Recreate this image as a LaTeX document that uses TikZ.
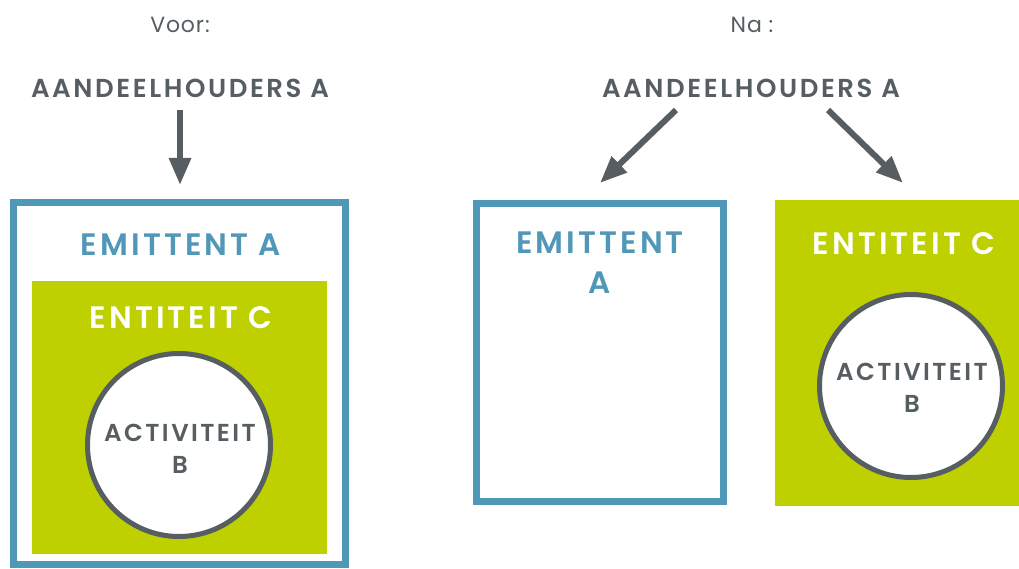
\documentclass[tikz,border=0pt]{standalone}
\usepackage{fontspec}
\setmainfont{Poppins}
\newfontfamily\capfont{Poppins}[LetterSpace=4]
\newfontfamily\headfont{Poppins SemiBold}[LetterSpace=10]
\usetikzlibrary{arrows.meta}
\definecolor{ink}{RGB}{86,94,98}
\definecolor{steel}{RGB}{80,151,184}
\definecolor{lime}{RGB}{190,208,0}
\tikzset{
  caption/.style={text=ink, font=\capfont\fontsize{22}{26}\selectfont, inner sep=0},
  head/.style={text=ink, font=\headfont\fontsize{26}{30}\selectfont, inner sep=0},
  issuer/.style={draw=steel, line width=7pt, fill=white, inner sep=0},
  entity/.style={fill=lime, inner sep=0},
  activity/.style={circle, draw=ink, line width=5pt, fill=white, inner sep=0,
    minimum size=183pt},
  blue label/.style={text=steel, font=\headfont\fontsize{31}{40}\selectfont, inner sep=0, align=center},
  white label/.style={text=white, font=\headfont\fontsize{31}{36}\selectfont, inner sep=0},
  act label/.style={text=ink, font=\headfont\fontsize{24.5}{32}\selectfont, inner sep=0, align=center},
  flow/.style={draw=ink, line width=6pt, -{Triangle[length=27pt,width=21pt]}},
}
\begin{document}
\begin{tikzpicture}[x=1pt, y=-1pt]
\useasboundingbox (0,0) rectangle (1019,569);

% ---- before ----
\node[caption] (voor) at (180,25) {Voor:};
\node[head] (holdL) at (180,88) {AANDEELHOUDERS A};
\node[issuer, minimum width=332.5pt, minimum height=361pt] (issL) at (179.25,383.5) {};
\node[entity, minimum width=295pt, minimum height=273pt] (entL) at (179.5,417.5) {};
\node[activity] (actL) at (179,445) {};
\node[blue label] (issLtxt) at (181,245) {EMITTENT A};
\node[white label] (entLtxt) at (181,318) {ENTITEIT C};
\node[act label] (actLtxt) at (180,449) {ACTIVITEIT\\B};
\coordinate (tipL) at (180,185);
\draw[flow] (180,110) -- (tipL);

% ---- after ----
\node[caption] (na) at (752,25) {Na :};
\node[head] (holdR) at (751,88) {AANDEELHOUDERS A};
\node[issuer, minimum width=247pt, minimum height=297pt] (issR) at (599.5,352.5) {};
\node[entity, minimum width=244pt, minimum height=306pt] (entR) at (897,353) {};
\node[activity] (actR) at (911,386) {};
\node[blue label] (issRtxt) at (600,263) {EMITTENT\\A};
\node[white label] (entRtxt) at (904,244) {ENTITEIT C};
\node[act label] (actRtxt) at (912,388) {ACTIVITEIT\\B};
\coordinate (tipR1) at (600,183);
\coordinate (tipR2) at (903,183);
\coordinate (srcR1) at (676,110);
\coordinate (srcR2) at (828,110);
\draw[flow] (srcR1) -- (tipR1);
\draw[flow] (srcR2) -- (tipR2);
\end{tikzpicture}
\end{document}
